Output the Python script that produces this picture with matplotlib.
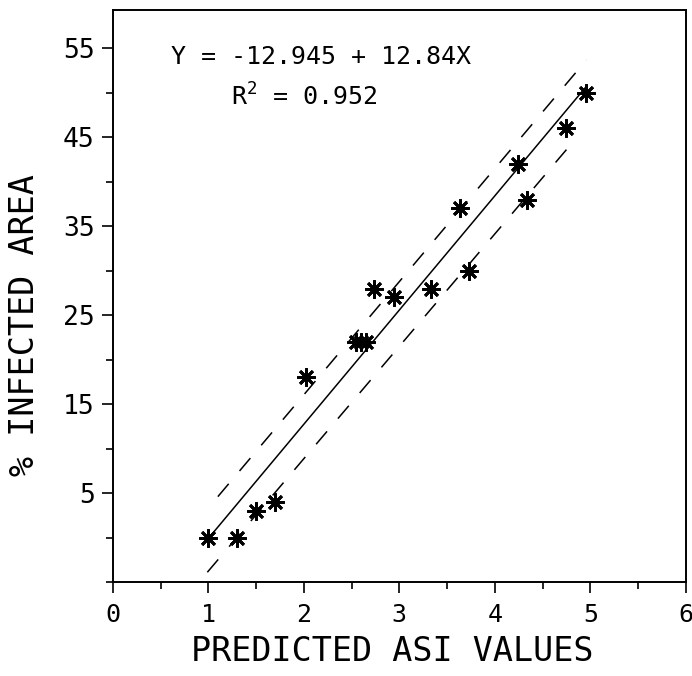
import numpy as np
import matplotlib
matplotlib.use("Agg")
import matplotlib.pyplot as plt
from matplotlib.ticker import MultipleLocator

# valores
asi_predicho = [1.0, 1.3, 1.5, 1.7, 2.02, 2.55, 2.6, 2.65, 2.73, 2.94,
                3.33, 3.64, 3.73, 4.24, 4.34, 4.75, 4.95]
area_infectada = [0, 0, 3, 4, 18, 22, 22, 22, 28, 27,
                  28, 37, 30, 42, 38, 46, 50]

# recta de regresion
intercepto = -12.945
pendiente = 12.84
r2 = 0.952
recta_x = [1.0, 4.95]

# bandas de confianza (extremos)
banda_sup_x = [1.1, 4.96]
banda_sup_y = [4.6, 53.7]
banda_inf_x = [0.99, 4.86]
banda_inf_y = [-3.9, 45.0]

FUENTE = "DejaVu Sans Mono"
plt.rcParams["mathtext.fontset"] = "custom"
plt.rcParams["mathtext.rm"] = FUENTE
plt.rcParams["mathtext.it"] = FUENTE

fig = plt.figure(figsize=(6.92, 6.76), dpi=100)
ax = fig.add_axes([0.163, 0.139, 0.828, 0.846])

rx = np.array(recta_x)
ax.plot(rx, intercepto + pendiente * rx, color="black", lw=1.1)
ax.plot(banda_sup_x, banda_sup_y, color="black", lw=1.1, linestyle=(0, (11, 11)))
ax.plot(banda_inf_x, banda_inf_y, color="black", lw=1.1, linestyle=(0, (11, 11)))
ax.plot(asi_predicho, area_infectada, linestyle="none", marker=(8, 2, 0),
        markersize=13, markeredgewidth=2.0, color="black")

ax.set_xlim(0, 6)
ax.set_ylim(-5, 59.3)
ax.xaxis.set_major_locator(MultipleLocator(1))
ax.xaxis.set_minor_locator(MultipleLocator(0.5))
ax.set_yticks([5, 15, 25, 35, 45, 55])
ax.yaxis.set_minor_locator(MultipleLocator(5))

ax.tick_params(which="major", direction="out", length=8, width=1.2,
               labelsize=19, pad=5)
ax.tick_params(which="minor", direction="out", length=5, width=1.2)
ax.tick_params(axis="x", which="major", pad=7, labelsize=18)
for lbl in ax.get_xticklabels() + ax.get_yticklabels():
    lbl.set_family(FUENTE)
for s in ax.spines.values():
    s.set_linewidth(1.4)

ax.set_xlabel("PREDICTED ASI VALUES", family=FUENTE, fontsize=24)
ax.set_ylabel("% INFECTED AREA", family=FUENTE, fontsize=24)
ax.xaxis.label.set_va("center")
ax.yaxis.label.set_va("center")
ax.xaxis.set_label_coords(0.487, -0.122)
ax.yaxis.set_label_coords(-0.154, 0.449)

ax.text(0.363, 0.918, "Y = -12.945 + 12.84X", transform=ax.transAxes,
        ha="center", va="center", family=FUENTE, fontsize=18)
ax.text(0.335, 0.848, "R$\\mathrm{^2}$ = 0.952", transform=ax.transAxes,
        ha="center", va="center", family=FUENTE, fontsize=18)

fig.savefig("out.png", dpi=100)
